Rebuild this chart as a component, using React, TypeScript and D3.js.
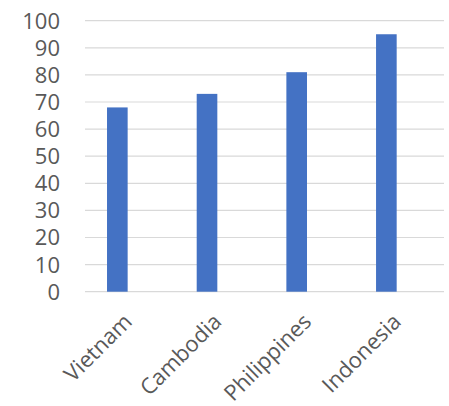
import React from "react";
import * as d3 from "d3";

const categories = ["Vietnam", "Cambodia", "Philippines", "Indonesia"];
const values = [68, 73, 81, 95];
const yTicks = [0, 10, 20, 30, 40, 50, 60, 70, 80, 90, 100];

export default function App() {
  const W = 449, H = 406;
  const left = 85, right = 444, top = 20.7, bottom = 291.7;
  const x = d3.scaleBand<string>().domain(categories).range([72.5, 431.2]).paddingInner(0.77).paddingOuter(0.385);
  const y = d3.scaleLinear().domain([0, 100]).range([bottom, top]);
  const font = "'Open Sans', sans-serif";
  return (
    <svg width={W} height={H} style={{ position: "absolute", left: 0, top: 0 }}>
      <rect width={W} height={H} fill="#fff" />
      {yTicks.map((t) => (
        <g key={t}>
          <line x1={left} x2={right} y1={y(t)} y2={y(t)} stroke="#d9d9d9" strokeWidth={1.2} />
          <text x={60} y={y(t)} dy="0.36em" textAnchor="end" fontFamily={font} fontSize={22} fill="#595959">{t}</text>
        </g>
      ))}
      {categories.map((c, i) => (
        <rect key={c} x={x(c)!} y={y(values[i])} width={x.bandwidth()} height={y(0) - y(values[i])} fill="#4472c4" />
      ))}
      {categories.map((c) => {
        const cx = x(c)! + x.bandwidth() / 2 + 16;
        const cy = 323;
        return (
          <text key={c} transform={`translate(${cx},${cy}) rotate(-45)`} textAnchor="end" fontFamily={font} fontSize={22} fill="#595959">{c}</text>
        );
      })}
    </svg>
  );
}
